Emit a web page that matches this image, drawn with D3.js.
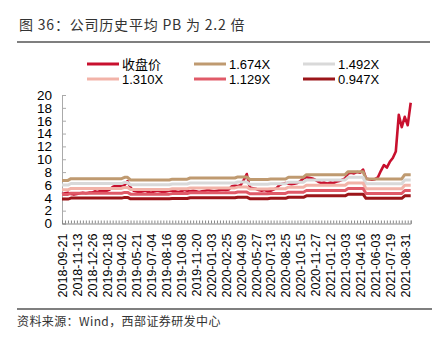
<!DOCTYPE html>
<html>
<head>
<meta charset="utf-8">
<script src="https://cdn.jsdelivr.net/npm/d3@7"></script>
<style>
  body { margin: 0; background: #fff; }
  text { font-family: "Liberation Sans", Arial, sans-serif; }
  .cjk { font-family: "Noto Sans CJK SC", "Noto Sans", sans-serif; }
</style>
</head>
<body>
<svg id="chart" width="438" height="343"></svg>
<script>
// Category axis labels (one every 5 sample points)
const tickLabels = [
  "2018-09-21","2018-11-13","2018-12-26","2019-02-18","2019-04-02","2019-05-21",
  "2019-07-04","2019-08-16","2019-10-08","2019-11-20","2020-01-03","2020-02-25",
  "2020-04-09","2020-05-27","2020-07-13","2020-08-25","2020-10-15","2020-11-27",
  "2021-01-12","2021-03-03","2021-04-16","2021-06-03","2021-07-19","2021-08-31"
];

// Closing price, one sample per minor tick
const closePrice = [
  4.6, 4.7, 4.8, 4.6, 4.5, 4.6, 4.7, 4.8, 4.7, 4.8, 4.8,
  5.0, 4.9, 5.1, 5.0, 5.1, 5.3,
  5.7, 5.9, 5.8, 5.9, 6.0,
  6.6,
  5.6,
  5.1, 5.0, 4.9, 5.0, 5.1, 4.9, 4.8, 5.0, 5.1, 5.0, 4.9, 5.0, 5.1, 5.1, 5.0, 4.9, 5.0,
  5.2, 5.1, 5.0, 5.1, 5.0, 4.9, 5.0, 5.1, 5.2, 5.1, 5.0, 5.1, 5.2, 5.3, 5.2, 5.3,
  5.8, 5.9, 5.8, 6.0,
  6.8, 7.7,
  5.6, 5.5, 5.4,
  5.2, 5.1, 5.2, 5.0, 5.1, 5.3, 5.5,
  6.0, 6.2, 6.3, 6.2, 6.1, 6.2,
  6.3, 6.6,
  7.0, 7.2, 7.1, 7.0, 6.8,
  6.5, 6.3, 6.4, 6.2, 6.4, 6.3, 6.5, 6.6, 6.8,
  7.0,
  7.8, 7.9, 7.8, 8.0, 7.9,
  8.4,
  7.0, 6.9, 6.8, 6.9, 7.2,
  8.2, 9.1, 8.7, 9.6, 10.2, 11.2, 16.9, 15.0, 16.6, 15.3, 18.8
];

// PB band levels: each level holds from its start sample until the next start
const segmentStart = [0, 3, 21, 23, 37, 43, 59, 63, 70, 76, 82, 96, 102, 115];
const band1674 = [6.71, 6.98, 7.18, 6.78, 6.90, 7.08, 7.25, 6.85, 6.93, 7.21, 7.60, 8.07, 6.93, 7.60];
const band1492 = [5.98, 6.22, 6.40, 6.04, 6.15, 6.31, 6.46, 6.10, 6.18, 6.43, 6.77, 7.19, 6.18, 6.77];
const band1310 = [5.25, 5.46, 5.62, 5.31, 5.40, 5.54, 5.67, 5.36, 5.42, 5.65, 5.95, 6.31, 5.42, 5.95];
const band1129 = [4.53, 4.71, 4.84, 4.57, 4.65, 4.78, 4.89, 4.62, 4.67, 4.87, 5.13, 5.44, 4.67, 5.13];
const band0947 = [3.80, 3.95, 4.06, 3.84, 3.90, 4.01, 4.10, 3.87, 3.92, 4.08, 4.30, 4.56, 3.92, 4.30];

const yTicks = [0, 2, 4, 6, 8, 10, 12, 14, 16, 18, 20];

const seriesNames  = ["收盘价", "1.674X", "1.492X", "1.310X", "1.129X", "0.947X"];
const seriesColors = ["#c8102e", "#bf9a70", "#d9d9d9", "#f2b3a8", "#e05a68", "#9b1519"];

const n = closePrice.length;

// expand step levels into one value per sample
function expandSteps(levels) {
  const out = [];
  for (let i = 0; i < n; i++) {
    const k = d3.bisectRight(segmentStart, i) - 1;
    out.push(levels[k]);
  }
  return out;
}

const seriesData = [closePrice,
  expandSteps(band1674), expandSteps(band1492), expandSteps(band1310),
  expandSteps(band1129), expandSteps(band0947)];

const svg = d3.select("#chart");

// title and rules
svg.append("text").attr("class", "cjk")
  .attr("x", 19).attr("y", 30)
  .attr("font-size", 14).attr("letter-spacing", 0.8).attr("fill", "#333")
  .text("图 36：公司历史平均 PB 为 2.2 倍");
svg.append("line").attr("x1", 17).attr("x2", 430).attr("y1", 42).attr("y2", 42)
  .attr("stroke", "#555").attr("stroke-width", 1.3);
svg.append("line").attr("x1", 17).attr("x2", 432).attr("y1", 309).attr("y2", 309)
  .attr("stroke", "#555").attr("stroke-width", 1.3);
svg.append("text").attr("class", "cjk")
  .attr("x", 17).attr("y", 326)
  .attr("font-size", 12).attr("letter-spacing", 0.4).attr("fill", "#333")
  .text("资料来源：Wind，西部证券研发中心");

// scales
const x = d3.scaleLinear().domain([0, n - 1]).range([62, 410.7]);
const y = d3.scaleLinear().domain([0, 20]).range([223.5, 95]);

// y axis
const yAxis = svg.append("g").attr("transform", "translate(62,0)")
  .call(d3.axisLeft(y).tickValues(yTicks).tickSize(-4).tickPadding(10).tickFormat(d3.format("d")));
yAxis.select(".domain").attr("stroke", "#aaa");
yAxis.selectAll(".tick line").attr("stroke", "#aaa");
yAxis.selectAll("text").attr("font-size", 13.5).attr("fill", "#000")
  .attr("font-family", "Liberation Sans, Arial, sans-serif");

// x axis: minor ticks at each sample
const xAxis = svg.append("g").attr("transform", `translate(0,${y(0)})`)
  .call(d3.axisBottom(x).tickValues(d3.range(0, n)).tickSize(-3).tickFormat(""));
xAxis.select(".domain").attr("stroke", "#888");
xAxis.selectAll(".tick line").attr("stroke", "#888");

// x axis labels every 5 samples
const labelAxis = svg.append("g").attr("transform", `translate(0,${y(0)})`)
  .call(d3.axisBottom(x).tickValues(d3.range(0, tickLabels.length).map(i => i * 5))
    .tickSize(0).tickFormat(v => tickLabels[v / 5]));
labelAxis.select(".domain").remove();
labelAxis.selectAll("text")
  .attr("font-size", 12.5).attr("fill", "#000")
  .attr("font-family", "Liberation Sans, Arial, sans-serif")
  .attr("text-anchor", "end")
  .attr("transform", "rotate(-90)")
  .attr("x", -10).attr("y", 0).attr("dy", "0.35em");

// lines: price first, bands drawn over it
const line = d3.line().x((d, i) => x(i)).y(d => y(d));
seriesData.forEach((vals, k) => {
  svg.append("path")
    .datum(vals)
    .attr("fill", "none")
    .attr("stroke", seriesColors[k])
    .attr("stroke-width", k === 0 ? 2.6 : 3)
    .attr("stroke-linejoin", "round")
    .attr("d", line);
});

// legend
const legendCols = [87, 194, 303];
const legendRows = [64, 79];
seriesNames.forEach((name, k) => {
  const lx = legendCols[k % 3], ly = legendRows[Math.floor(k / 3)];
  svg.append("line").attr("x1", lx).attr("x2", lx + 32).attr("y1", ly).attr("y2", ly)
    .attr("stroke", seriesColors[k]).attr("stroke-width", 3);
  svg.append("text")
    .attr("class", k === 0 ? "cjk" : null)
    .attr("x", lx + 35).attr("y", ly).attr("dy", "0.36em")
    .attr("font-size", 13).attr("fill", "#000")
    .text(name);
});
</script>
</body>
</html>
